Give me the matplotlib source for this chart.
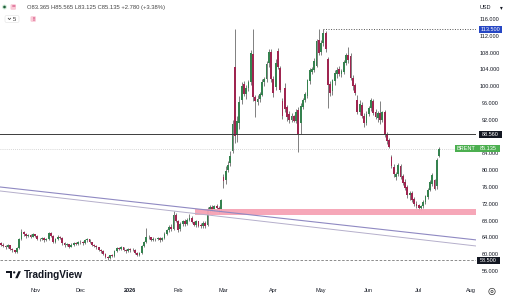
import numpy as np
import pandas as pd
import matplotlib
matplotlib.use("Agg")
import matplotlib.pyplot as plt
import matplotlib.transforms as mtransforms
from matplotlib.patches import Rectangle, Circle, Polygon, FancyBboxPatch

plt.rcParams['font.family'] = ['Liberation Sans', 'DejaVu Sans']

# ---------------- data ----------------
start_date = '2025-10-13'
end_date = '2026-07-14'
holidays = ['2025-12-25', '2026-01-01', '2026-04-03']

opens = [62.6, 62.3, 62.0, 61.6, 62.1, 61.2, 60.9, 60.6, 61.4, 63.6,
         65.3, 64.8, 64.3, 64.5, 64.2, 64.7, 64.3, 63.7, 63.5, 63.9,
         63.3, 63.6, 65.0, 64.3, 62.9, 63.6, 64.2, 63.8, 62.6, 62.1,
         62.4, 61.8, 62.3, 62.7, 62.4, 62.8, 63.0, 62.6, 63.3, 63.5,
         62.9, 62.3, 62.0, 61.6, 61.1, 60.7, 60.1, 59.3, 59.0, 59.7,
         59.6, 60.8, 61.4, 61.2, 61.6, 61.0, 60.7, 61.3, 60.9, 61.1,
         60.4, 59.8, 60.2, 62.0, 62.8, 64.2, 64.0, 63.4, 63.7, 63.5,
         63.9, 63.3, 63.8, 64.9, 65.7, 66.5, 66.1, 69.3, 67.8, 65.9,
         67.1, 67.9, 67.2, 68.1, 68.7, 67.7, 67.0, 67.8, 66.9, 66.6,
         67.5, 67.0, 70.5, 71.3, 70.7, 71.4, 70.9, 70.7, 78.3, 77.6,
         80.0, 81.6, 84.6, 104.5, 88.4, 91.3, 96.8, 100.6, 98.2, 99.6,
         100.9, 107.6, 97.4, 96.3, 96.9, 98.0, 101.0, 101.6, 105.6, 108.2,
         101.8, 99.8, 108.4, 104.4, 96.4, 99.6, 95.0, 93.4, 92.0, 92.8,
         91.8, 94.4, 91.2, 95.0, 96.8, 97.6, 101.2, 103.4, 103.8, 104.8,
         110.9, 108.2, 110.2, 112.6, 106.4, 100.6, 98.8, 101.2, 102.8, 104.2,
         102.8, 103.4, 105.6, 107.5, 107.2, 101.9, 100.3, 96.6, 93.9, 95.6,
         93.0, 91.3, 93.3, 94.8, 96.4, 93.8, 92.4, 93.6, 91.9, 93.8,
         88.6, 87.2, 83.2, 80.8, 78.4, 79.0, 81.0, 78.6, 77.2, 76.0,
         74.0, 74.6, 73.2, 72.0, 71.6, 71.0, 71.4, 72.4, 73.6, 75.4,
         76.6, 77.6, 76.2, 83.365]
highs = [62.9, 62.6, 62.3, 62.4, 62.2, 61.5, 61.1, 61.7, 63.9, 66.0,
         65.6, 65.0, 64.9, 64.7, 65.0, 64.9, 64.5, 63.9, 64.2, 64.0,
         63.9, 65.3, 65.2, 64.5, 63.9, 64.5, 64.4, 64.0, 62.8, 62.7,
         62.5, 62.6, 63.0, 62.9, 63.1, 63.3, 63.1, 63.6, 63.8, 63.6,
         63.0, 62.5, 62.2, 61.8, 61.3, 60.9, 60.3, 59.6, 59.9, 60.0,
         61.0, 61.7, 61.6, 61.9, 61.7, 61.2, 61.5, 61.4, 61.4, 61.2,
         60.6, 60.5, 62.3, 63.1, 66.2, 64.6, 64.2, 64.0, 63.9, 64.2,
         64.0, 64.0, 65.2, 66.0, 66.9, 67.2, 70.2, 69.8, 68.1, 67.6,
         68.2, 68.4, 68.6, 69.6, 69.0, 68.0, 68.2, 68.0, 67.4, 67.9,
         67.8, 71.2, 71.6, 71.7, 71.8, 71.9, 71.5, 73.2, 79.0, 81.0,
         82.3, 84.5, 92.0, 113.6, 93.0, 97.6, 101.0, 101.3, 100.2, 101.4,
         108.6, 113.6, 98.0, 97.8, 98.6, 101.6, 102.2, 106.0, 108.9, 108.8,
         102.4, 106.4, 109.0, 104.8, 97.2, 100.8, 95.6, 94.0, 93.6, 93.2,
         94.5, 95.0, 96.0, 97.3, 98.6, 101.8, 104.4, 104.6, 106.6, 111.2,
         113.6, 111.0, 113.7, 113.2, 107.0, 101.2, 101.8, 103.8, 104.6, 104.9,
         104.2, 106.3, 108.0, 109.3, 107.8, 102.6, 100.8, 97.8, 96.6, 96.2,
         93.6, 94.0, 95.4, 97.2, 97.0, 94.5, 94.2, 96.4, 94.2, 94.3,
         89.0, 87.6, 83.6, 81.4, 79.6, 81.6, 81.4, 79.0, 77.8, 76.5,
         75.0, 75.0, 73.7, 72.6, 72.0, 71.8, 72.8, 74.2, 75.8, 77.6,
         79.4, 78.0, 83.0, 85.565]
lows = [61.9, 61.7, 61.3, 61.4, 60.9, 60.6, 60.3, 60.4, 61.2, 63.4,
        64.4, 63.9, 64.0, 63.8, 64.0, 64.0, 63.4, 63.1, 63.3, 63.0,
        63.1, 63.4, 64.0, 62.6, 62.7, 63.3, 63.5, 62.3, 61.8, 61.9,
        61.5, 61.6, 62.0, 62.1, 62.2, 62.5, 62.3, 62.4, 63.0, 62.6,
        62.0, 61.7, 61.3, 60.8, 60.4, 59.8, 59.0, 58.55, 58.8, 59.3,
        59.4, 60.6, 60.9, 61.0, 60.7, 60.4, 60.5, 60.6, 60.7, 60.1,
        59.5, 59.6, 60.0, 61.8, 62.6, 63.6, 63.1, 63.2, 63.2, 63.3,
        63.0, 63.1, 63.6, 64.6, 65.4, 65.6, 65.8, 67.6, 65.2, 65.5,
        66.6, 66.8, 66.9, 67.8, 67.4, 66.6, 66.5, 66.4, 66.2, 66.3,
        66.3, 66.8, 70.1, 70.3, 70.4, 70.5, 69.8, 70.4, 75.8, 76.8,
        79.6, 81.0, 84.0, 86.5, 86.8, 89.8, 95.8, 97.6, 97.0, 98.8,
        100.2, 96.5, 92.7, 95.5, 96.2, 97.6, 100.1, 101.0, 104.5, 101.0,
        97.4, 99.2, 104.0, 98.5, 92.3, 93.8, 91.6, 91.3, 91.5, 91.4,
        91.2, 84.3, 88.6, 94.6, 96.3, 97.2, 100.6, 102.8, 103.4, 104.5,
        107.4, 107.5, 109.6, 108.2, 94.8, 97.6, 98.0, 100.4, 101.9, 102.5,
        102.2, 102.9, 105.0, 105.6, 101.4, 99.2, 97.8, 93.4, 93.2, 92.4,
        90.2, 90.8, 92.8, 94.2, 93.1, 92.1, 91.5, 91.0, 91.5, 88.0,
        86.2, 85.3, 80.6, 78.4, 77.6, 78.7, 77.9, 76.4, 75.2, 73.4,
        73.0, 72.4, 71.4, 71.0, 70.6, 70.5, 71.0, 72.0, 73.2, 75.0,
        76.2, 75.2, 75.6, 83.125]
closes = [62.3, 62.0, 61.6, 62.1, 61.2, 60.9, 60.6, 61.4, 63.6, 65.3,
          64.8, 64.3, 64.5, 64.2, 64.7, 64.3, 63.7, 63.5, 63.9, 63.3,
          63.6, 65.0, 64.3, 62.9, 63.6, 64.2, 63.8, 62.6, 62.1, 62.4,
          61.8, 62.3, 62.7, 62.4, 62.8, 63.0, 62.6, 63.3, 63.5, 62.9,
          62.3, 62.0, 61.6, 61.1, 60.7, 60.1, 59.3, 59.0, 59.7, 59.6,
          60.8, 61.4, 61.2, 61.6, 61.0, 60.7, 61.3, 60.9, 61.1, 60.4,
          59.8, 60.2, 62.0, 62.8, 64.2, 64.0, 63.4, 63.7, 63.5, 63.9,
          63.3, 63.8, 64.9, 65.7, 66.5, 66.0, 69.4, 68.0, 65.8, 67.2,
          67.8, 67.2, 68.2, 68.7, 67.6, 67.0, 67.8, 66.8, 66.6, 67.5,
          66.8, 70.6, 71.2, 70.6, 71.4, 70.9, 70.6, 72.8, 77.4, 79.8,
          81.3, 83.4, 91.0, 88.2, 91.6, 96.3, 100.1, 98.2, 99.6, 100.9,
          107.9, 97.4, 96.4, 96.9, 98.2, 101.1, 101.6, 105.4, 108.2, 101.6,
          98.4, 105.6, 104.6, 99.2, 92.9, 94.6, 92.6, 92.0, 92.8, 91.8,
          93.9, 88.6, 95.2, 96.8, 98.2, 101.4, 103.8, 104.2, 105.9, 110.8,
          108.0, 110.4, 112.6, 108.8, 100.4, 98.4, 101.5, 103.2, 103.9, 103.0,
          103.6, 105.8, 107.4, 106.2, 102.0, 100.0, 98.4, 93.9, 95.8, 92.9,
          91.2, 93.4, 94.8, 96.6, 93.6, 92.6, 93.6, 92.0, 93.8, 88.4,
          87.0, 85.6, 81.0, 79.0, 79.2, 81.2, 78.4, 77.0, 75.8, 74.0,
          74.6, 73.0, 72.0, 71.4, 70.9, 71.5, 72.5, 73.8, 75.3, 77.2,
          78.9, 75.6, 82.355, 85.135]

symbol = 'BRENT'
resistance_level = 113.5
level_line = 88.56
support_dashed = 58.5
zone_low, zone_high = 69.4, 70.7
zone_start = '2026-02-12'
trend_upper = [76.0, 63.4]
trend_lower = [75.05, 61.95]
y_ticks = [56, 60, 64, 68, 72, 76, 80, 84, 88, 92, 96, 100, 104, 108, 112, 116]

# ---------------- dates ----------------
dates = pd.bdate_range(start_date, end_date)
dates = dates[~dates.isin(pd.to_datetime(holidays))]
future = pd.bdate_range(pd.Timestamp(end_date) + pd.Timedelta(days=1), '2026-08-31')
all_dates = dates.append(future)

O = np.array(opens); Hh = np.array(highs); Ll = np.array(lows); C = np.array(closes)
n = len(C)
x = np.arange(n)

W, H = 506, 300
fig = plt.figure(figsize=(W / 100, H / 100), dpi=100)
fig.patch.set_facecolor('white')
ax = fig.add_axes([0, 16 / H, 476 / W, 284 / H])
ax.set_facecolor('white')
px_per_bar = 2.27
x_lo = -1 / px_per_bar
x_hi = (476 - 1) / px_per_bar
ax.set_xlim(x_lo, x_hi)
ax.set_ylim(52.9, 120.52)
for s in ax.spines.values():
    s.set_visible(False)

up_col = '#35824f'
dn_col = '#9f2550'
wick_col = '#5e5e5e'
up = C >= O
cols = np.where(up, up_col, dn_col)

# zone
zs = int(np.searchsorted(all_dates, pd.Timestamp(zone_start)))
ax.add_patch(Rectangle((zs - 0.5, zone_low), x_hi - zs + 1, zone_high - zone_low,
                       facecolor='#f6a2b4', edgecolor='none', zorder=3, alpha=0.95))

# trend lines
ax.plot([x_lo, x_hi], trend_upper, color='#8f89c2', lw=0.8, zorder=4)
ax.plot([x_lo, x_hi], trend_lower, color='#b5afcb', lw=0.7, zorder=4)

# candles
ax.vlines(x, Ll, Hh, color=wick_col, lw=0.55, zorder=2)
body_h = np.maximum(np.abs(C - O), 0.15)
ax.bar(x, body_h, bottom=np.minimum(O, C), width=0.8, color=cols,
       edgecolor='none', zorder=2.2)

# horizontal lines
ax.axhline(level_line, color='#3c3c3c', lw=0.7, zorder=4)
ax.axhline(support_dashed, color='#7a7a7a', lw=0.6, ls=(0, (3, 2)), zorder=4)
ax.axhline(C[-1], color='#c9c9c9', lw=0.6, ls=(0, (1, 1.5)), zorder=1.5)
i_peak = int(np.argmax(Hh))
ax.plot([i_peak, x_hi], [resistance_level, resistance_level], color='#555555',
        lw=0.7, ls=(0, (1, 1.6)), zorder=4)

# y axis ticks on right
ax.yaxis.tick_right()
ax.set_yticks(y_ticks)
ax.set_yticklabels(['' if v == 88 else f'{v:.3f}' for v in y_ticks])
ax.tick_params(axis='y', length=0, pad=10, labelsize=4, labelcolor='#131722')
for lab in ax.get_yticklabels():
    lab.set_horizontalalignment('center')

# x axis month ticks
month_starts = pd.date_range('2025-11-01', '2026-08-01', freq='MS')
tick_pos, tick_lab = [], []
for m in month_starts:
    idx = int(np.searchsorted(all_dates, m))
    tick_pos.append(idx)
    tick_lab.append(str(m.year) if m.month == 1 else m.strftime('%b'))
ax.set_xticks(tick_pos)
ax.set_xticklabels(tick_lab)
ax.tick_params(axis='x', length=0, pad=3.2, labelsize=4, labelcolor='#131722')
for lab in ax.get_xticklabels():
    if lab.get_text().isdigit():
        lab.set_fontweight('bold')

# price labels on the axis
trans = mtransforms.blended_transform_factory(fig.transFigure, ax.transData)
hh = 3.3 / 4.2


def price_box(x0, x1, v, text, color):
    ax.add_patch(Rectangle((x0 / W, v - hh), (x1 - x0) / W, 2 * hh, transform=trans,
                           facecolor=color, edgecolor='none', clip_on=False, zorder=8))
    ax.text((x0 + x1) / 2 / W, v, text, transform=trans, color='white', fontsize=4,
            ha='center', va='center', clip_on=False, zorder=9)


price_box(479, 502, resistance_level, f'{resistance_level:.3f}', '#2747c4')
price_box(479, 502, level_line, f'{level_line:.3f}', '#131722')
price_box(477, 500, support_dashed, f'{support_dashed:.3f}', '#131722')
price_box(455, 477, C[-1], symbol, '#4caf50')
price_box(477, 500, C[-1], f'{C[-1]:.3f}', '#4caf50')

# ---------------- overlay decorations (pixel coords) ----------------
oax = fig.add_axes([0, 0, 1, 1], zorder=10)
oax.set_xlim(0, W)
oax.set_ylim(H, 0)
oax.axis('off')
oax.patch.set_alpha(0)

chg = C[-1] - C[-2]
pct = chg / C[-2] * 100
header = (f'O{O[-1]:.3f} H{Hh[-1]:.3f} L{Ll[-1]:.3f} C{C[-1]:.3f} '
          f'{chg:+.3f} ({pct:+.2f}%)')
oax.add_patch(Circle((4.5, 7), 2.4, facecolor='#cfe8d5', edgecolor='none'))
oax.add_patch(Circle((4.5, 7), 1.3, facecolor='#1e5e3a', edgecolor='none'))
oax.add_patch(FancyBboxPatch((10.5, 4.2), 5.5, 5.6, boxstyle='round,pad=0,rounding_size=1.2',
                             facecolor='#f9c9d6', edgecolor='none'))
oax.text(13.25, 7.1, '=', fontsize=4.5, color='#c2185b', ha='center', va='center')
oax.text(27, 7.2, header, fontsize=4.2, color='#444444', ha='left', va='center')

oax.add_patch(FancyBboxPatch((5, 15.5), 14, 7, boxstyle='round,pad=0,rounding_size=1.5',
                             facecolor='white', edgecolor='#e2e2e2', lw=0.4))
oax.plot([8.2, 9.4, 10.6], [18.2, 19.6, 18.2], color='#333333', lw=0.5)
oax.text(14.5, 19.1, '5', fontsize=4.2, color='#333333', ha='center', va='center')
oax.add_patch(FancyBboxPatch((30.5, 16.2), 5.5, 5.6, boxstyle='round,pad=0,rounding_size=1.2',
                             facecolor='#f9c9d6', edgecolor='none'))
oax.text(33.25, 19.1, '!', fontsize=4.2, color='#c2185b', ha='center', va='center',
         fontweight='bold')

oax.text(485, 7.2, 'USD', fontsize=4, color='#131722', ha='center', va='center')
oax.text(501, 7.2, '▾', fontsize=4, color='#131722', ha='center', va='center',
         family='DejaVu Sans')

# TradingView logo
oax.add_patch(Polygon([(6.5, 271.2), (12.3, 271.2), (12.3, 278.2), (10.1, 278.2),
                       (10.1, 273.4), (6.5, 273.4)], closed=True, facecolor='#131722',
                      edgecolor='none'))
oax.add_patch(Circle((14.2, 272.4), 1.15, facecolor='#131722', edgecolor='none'))
oax.add_patch(Polygon([(15.2, 278.2), (18.4, 271.2), (20.9, 271.2), (17.7, 278.2)],
                      closed=True, facecolor='#131722', edgecolor='none'))
oax.text(23.5, 274.8, 'TradingView', fontsize=7.2, color='#131722', ha='left',
         va='center', fontweight='bold')

# gear icon
oax.add_patch(Circle((492, 291.5), 3.2, facecolor='none', edgecolor='#333333', lw=0.5))
oax.add_patch(Circle((492, 291.5), 1.1, facecolor='none', edgecolor='#333333', lw=0.5))

fig.savefig('out.png', dpi=100, facecolor='white')
